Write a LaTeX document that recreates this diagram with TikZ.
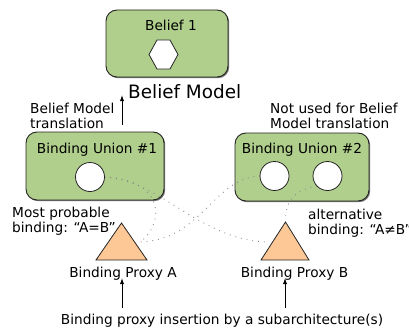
\documentclass[tikz,border=0pt]{standalone}
\usepackage{fontspec}
\setmainfont{DejaVu Sans}
\usetikzlibrary{shadows,arrows.meta}
\definecolor{boxgreen}{RGB}{176,207,140}
\definecolor{peach}{RGB}{253,200,150}
\definecolor{edgec}{RGB}{35,35,35}
\definecolor{dotc}{RGB}{130,130,130}
\newcommand{\smallfs}{\fontsize{13.7}{15.5}\selectfont}
\newcommand{\bigfs}{\fontsize{18.4}{21}\selectfont}
\begin{document}
\begin{tikzpicture}[x=1pt,y=-1pt,
  gbox/.style={draw=edgec, line width=0.9pt, fill=boxgreen, rounded corners=11pt,
    drop shadow={shadow xshift=1.2pt, shadow yshift=-1.2pt, fill=black, opacity=0.55}},
  slot/.style={circle, draw=edgec, line width=0.8pt, fill=white, minimum size=29pt, inner sep=0pt},
  proxy/.style={draw=edgec, line width=0.8pt, fill=peach, line join=miter},
  lbl/.style={font=\smallfs, inner sep=0pt},
  dots/.style={dotc, line width=0.9pt, dash pattern=on 0.8pt off 5pt},
  arr/.style={black, line width=0.9pt, -{Latex[length=6pt,width=4.2pt]}}
]
\useasboundingbox (0,0) rectangle (409,329);

% boxes
\node[gbox, minimum width=122pt, minimum height=67pt] (bel) at (167,43.5) {};
\node[gbox, minimum width=138pt, minimum height=68pt] (u1) at (95,166) {};
\node[gbox, minimum width=134pt, minimum height=68pt] (u2) at (302,167) {};

% box titles
\node[lbl, anchor=base] (belt) at (171,31) {Belief 1};
\node[lbl, anchor=base] (u1t) at (97,153) {Binding Union \#1};
\node[lbl, anchor=base] (u2t) at (302,153) {Binding Union \#2};

% hexagon
\draw[draw=edgec, line width=0.8pt, fill=white]
  (149,54.5) -- (157,40) -- (170,40) -- (178,54.5) -- (170,69) -- (157,69) -- cycle;

% proxy end points
\coordinate (pAr) at (140,242);
\coordinate (pBl) at (267,242);
\coordinate (pBt) at (285.5,219);

% circle positions (for dotted links)
\coordinate (c1e) at (104.5,177);
\coordinate (c2aw) at (260,176);
\coordinate (c2bsw) at (317,186);

% dotted binding links
\draw[dots] (c1e) .. controls (168,180) and (163,226) .. (pAr);
\draw[dots] (c1e) .. controls (160,180) and (200,240) .. (pBl);
\draw[dots] (c2aw) .. controls (213,178) and (202,240) .. (pAr);
\draw[dots] (c2bsw) .. controls (295,190) and (286,200) .. (pBt);

% slots
\node[slot] (c1) at (90,177) {};
\node[slot] (c2a) at (274.5,176) {};
\node[slot] (c2b) at (327.5,176) {};

% proxies
\draw[proxy] (121.5,223) -- (147,260) -- (96,260) -- cycle;
\draw[proxy] (285.5,222) -- (309,260) -- (261,260) -- cycle;

% labels
\node[font=\bigfs, inner sep=0pt, anchor=base west] (bm) at (128,98) {Belief Model};
\node[lbl, anchor=north west, align=left] (bmt) at (30,102.6) {Belief Model\\translation};
\node[lbl, anchor=north west, align=left] (nu) at (270,102.6) {Not used for Belief\\Model translation};
\node[lbl, anchor=north west, align=left] (mp) at (12,206.6) {Most probable\\binding: “A=B”};
\node[lbl, anchor=north west, align=left] (alt) at (308,208.6) {alternative\\binding: “A≠B”};
\node[lbl, anchor=base] (pal) at (123,277) {Binding Proxy A};
\node[lbl, anchor=base] (pbl) at (294.5,277) {Binding Proxy B};
\node[lbl, anchor=base] (ins) at (222,324) {Binding proxy insertion by a subarchitecture(s)};

% arrows
\coordinate (t1s) at (122,125);
\coordinate (t1e) at (122,95);
\coordinate (b1s) at (122,308);
\coordinate (b1e) at (122,278);
\coordinate (b2s) at (285,308);
\coordinate (b2e) at (285,278);
\draw[arr] (t1s) -- (t1e);
\draw[arr] (b1s) -- (b1e);
\draw[arr] (b2s) -- (b2e);
\end{tikzpicture}
\end{document}
